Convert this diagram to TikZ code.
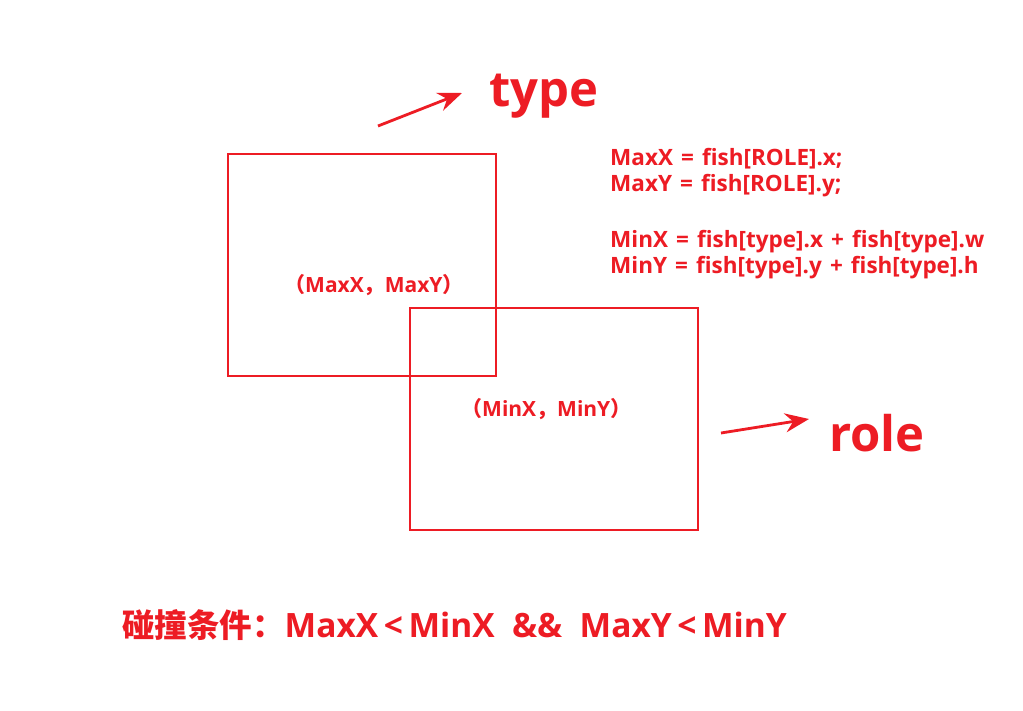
\documentclass[tikz,border=0pt]{standalone}
\usepackage{fontspec}
\setmainfont{Open Sans}
\newfontfamily\cjk{Noto Sans CJK SC}
\usepackage{xcolor}
\usetikzlibrary{arrows.meta, positioning, calc}
\definecolor{hitred}{HTML}{ED1C24}

\begin{document}
\begin{tikzpicture}[x=1pt, y=-1pt, >=stealth]
    % Styles
    \tikzstyle{box} = [rectangle, draw=hitred, line width=1.6pt, inner sep=0pt]
    \tikzstyle{note} = [text=hitred, font=\bfseries, inner sep=0pt, anchor=west]
    \tikzstyle{pointer} = [draw=hitred, line width=2.8pt, -{Stealth[length=24pt, width=19pt, inset=8pt]}]

    \useasboundingbox[fill=white] (0,0) rectangle (1023,711);

    % Nodes
    \node [box, minimum width=268pt, minimum height=222pt] (typebox) at (362,265) {};
    \node [box, minimum width=288pt, minimum height=222pt] (rolebox) at (554,419) {};
    \node [note, font=\bfseries\fontsize{21}{24}\selectfont] (maxpt) at (284,285) {{\cjk （}MaxX{\cjk ，}MaxY{\cjk ）}};
    \node [note, font=\bfseries\fontsize{21}{24}\selectfont] (minpt) at (461,409) {{\cjk （}MinX{\cjk ，}MinY{\cjk ）}};
    \node [note, font=\bfseries\fontsize{49}{52}\selectfont] (typelbl) at (489,96) {type};
    \node [note, font=\bfseries\fontsize{49}{52}\selectfont] (rolelbl) at (829,433) {role};
    \node [note, align=left, anchor=north west, font=\bfseries\fontsize{22.5}{26.5}\selectfont, execute at begin node={\spaceskip=0.36em plus 0.1em}] (formula) at (610,148)
        {MaxX = fish[ROLE].x;\\ MaxY = fish[ROLE].y;\\[29pt] MinX = fish[type].x + fish[type].w\\ MinY = fish[type].y + fish[type].h};
    \node [note, font=\bfseries\fontsize{33.5}{36}\selectfont] (cond) at (122,625) {{\cjk\fontsize{32.5}{36}\selectfont 碰撞条件：}MaxX\,<\,MinX\ \ \&\&\ \ MaxY\,<\,MinY};

    % Paths
    \coordinate (typetail) at (378,126);
    \coordinate (typehead) at (462,93);
    \coordinate (roletail) at (721,433);
    \coordinate (rolehead) at (809,419);
    \path [pointer] (typetail) -- (typehead);
    \path [pointer] (roletail) -- (rolehead);
\end{tikzpicture}
\end{document}
